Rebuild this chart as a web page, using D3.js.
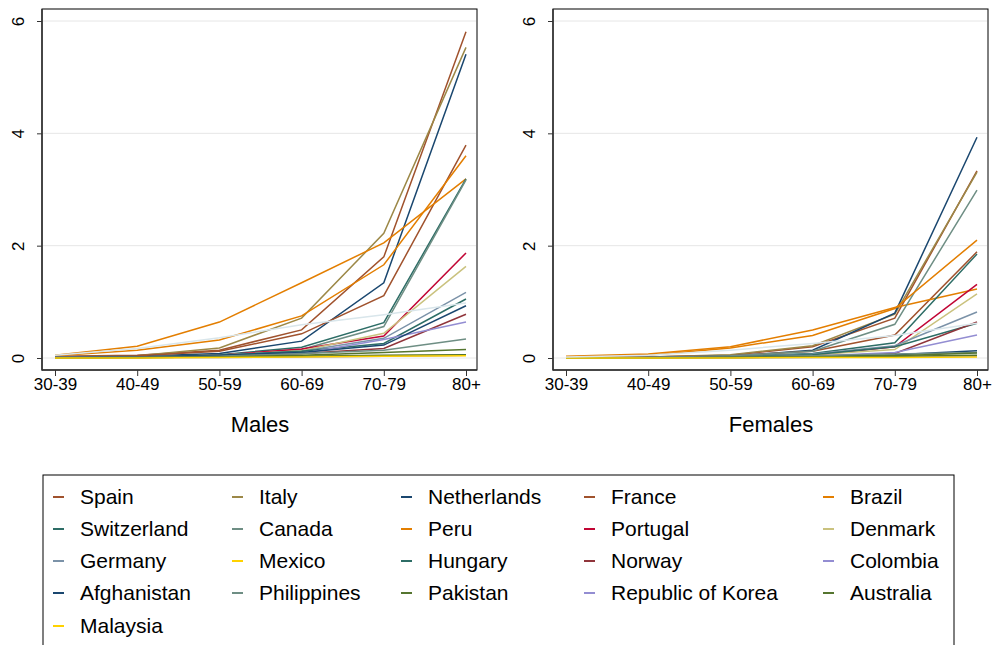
<!DOCTYPE html>
<html>
<head>
<meta charset="utf-8">
<script src="https://cdn.jsdelivr.net/npm/d3@7"></script>
<style>
  html, body { margin: 0; padding: 0; background: #fff; }
  svg { display: block; font-family: "Liberation Sans", Arial, sans-serif; }
</style>
</head>
<body>
<svg id="chart" width="992" height="645"></svg>
<script>
// Age bands on the x axis
const ageGroups = ["30-39", "40-49", "50-59", "60-69", "70-79", "80+"];
const yTicks = [0, 2, 4, 6];
const panelTitles = ["Males", "Females"];

// Country names, in legend order (the last series has no legend key)
const countries = [
  "Spain", "Italy", "Netherlands", "France", "Brazil",
  "Switzerland", "Canada", "Peru", "Portugal", "Denmark",
  "Germany", "Mexico", "Hungary", "Norway", "Colombia",
  "Afghanistan", "Philippines", "Pakistan", "Republic of Korea", "Australia",
  "Malaysia", "Other"
];
const inLegend = countries.map(c => c !== "Other");

const countryColors = [
  "#a0522d", "#9c8847", "#1a476f", "#a0522d", "#e37e00",
  "#2d6d66", "#6e8e84", "#e37e00", "#c10534", "#cac27e",
  "#7b92a8", "#ffd200", "#2d6d66", "#90353b", "#938dd2",
  "#1a476f", "#6e8e84", "#55752f", "#938dd2", "#55752f",
  "#ffd200", "#d9e6eb"
];

// Rates per age band, males
const males = [
  [0.03, 0.05, 0.14, 0.50, 1.80, 5.81], // Spain
  [0.02, 0.04, 0.18, 0.71, 2.22, 5.53], // Italy
  [0.01, 0.03, 0.08, 0.30, 1.34, 5.41], // Netherlands
  [0.02, 0.04, 0.12, 0.43, 1.11, 3.79], // France
  [0.05, 0.21, 0.64, 1.34, 2.05, 3.19], // Brazil
  [0.01, 0.02, 0.06, 0.19, 0.63, 3.19], // Switzerland
  [0.01, 0.02, 0.05, 0.15, 0.56, 3.17], // Canada
  [0.04, 0.14, 0.32, 0.75, 1.66, 3.60], // Peru
  [0.01, 0.02, 0.05, 0.16, 0.39, 1.87], // Portugal
  [0.01, 0.02, 0.05, 0.13, 0.44, 1.63], // Denmark
  [0.01, 0.02, 0.05, 0.12, 0.35, 1.17], // Germany
  [0.00, 0.01, 0.02, 0.03, 0.04, 0.05], // Mexico
  [0.01, 0.02, 0.05, 0.12, 0.26, 1.05], // Hungary
  [0.01, 0.01, 0.03, 0.08, 0.17, 0.78], // Norway
  [0.01, 0.01, 0.03, 0.08, 0.33, 0.64], // Colombia
  [0.01, 0.02, 0.05, 0.10, 0.23, 0.93], // Afghanistan
  [0.01, 0.01, 0.03, 0.08, 0.14, 0.34], // Philippines
  [0.00, 0.01, 0.02, 0.05, 0.10, 0.15], // Pakistan
  [0.00, 0.01, 0.01, 0.02, 0.03, 0.05], // Republic of Korea
  [0.00, 0.01, 0.02, 0.03, 0.05, 0.06], // Australia
  [0.00, 0.00, 0.01, 0.02, 0.03, 0.04], // Malaysia
  [0.05, 0.17, 0.36, 0.59, 0.77, 0.98]  // Other
];

// Rates per age band, females
const females = [
  [0.01, 0.02, 0.05, 0.20, 0.71, 3.33], // Spain
  [0.01, 0.02, 0.06, 0.22, 0.78, 3.31], // Italy
  [0.00, 0.01, 0.03, 0.14, 0.80, 3.93], // Netherlands
  [0.01, 0.02, 0.04, 0.12, 0.41, 1.89], // France
  [0.03, 0.07, 0.20, 0.50, 0.90, 1.23], // Brazil
  [0.00, 0.01, 0.03, 0.08, 0.27, 1.85], // Switzerland
  [0.01, 0.01, 0.04, 0.12, 0.60, 2.99], // Canada
  [0.02, 0.05, 0.18, 0.40, 0.88, 2.10], // Peru
  [0.00, 0.01, 0.02, 0.05, 0.20, 1.31], // Portugal
  [0.00, 0.01, 0.02, 0.06, 0.15, 1.14], // Denmark
  [0.00, 0.01, 0.02, 0.07, 0.22, 0.82], // Germany
  [0.00, 0.00, 0.01, 0.02, 0.02, 0.03], // Mexico
  [0.00, 0.01, 0.02, 0.06, 0.20, 0.62], // Hungary
  [0.00, 0.00, 0.01, 0.03, 0.08, 0.64], // Norway
  [0.00, 0.00, 0.01, 0.03, 0.10, 0.41], // Colombia
  [0.00, 0.00, 0.01, 0.03, 0.06, 0.13], // Afghanistan
  [0.00, 0.01, 0.02, 0.04, 0.07, 0.10], // Philippines
  [0.00, 0.00, 0.01, 0.02, 0.04, 0.09], // Pakistan
  [0.00, 0.00, 0.00, 0.01, 0.02, 0.03], // Republic of Korea
  [0.00, 0.00, 0.01, 0.02, 0.03, 0.05], // Australia
  [0.00, 0.00, 0.00, 0.01, 0.01, 0.02], // Malaysia
  [0.02, 0.05, 0.14, 0.26, 0.40, 0.62]  // Other
];

const svg = d3.select("#chart");

const panels = [
  { data: males,   left: 42,  right: 477, title: panelTitles[0], titleX: 260 },
  { data: females, left: 553, right: 988, title: panelTitles[1], titleX: 771 }
];
const plotTop = 9, plotBottom = 370;

const y = d3.scaleLinear().domain([0, 6]).range([358, 21]);

panels.forEach(p => {
  const x = d3.scalePoint().domain(ageGroups).range([p.left + 13, p.right - 11]);
  const g = svg.append("g");

  // plot region frame
  g.append("rect")
    .attr("x", p.left).attr("y", plotTop)
    .attr("width", p.right - p.left).attr("height", plotBottom - plotTop)
    .attr("fill", "#fff").attr("stroke", "#000").attr("stroke-width", 1);

  // horizontal grid lines
  g.selectAll("line.grid").data(yTicks).enter().append("line")
    .attr("class", "grid")
    .attr("x1", p.left + 1).attr("x2", p.right - 1)
    .attr("y1", d => y(d)).attr("y2", d => y(d))
    .attr("stroke", "#e6e6e6").attr("stroke-width", 1);

  // series
  const line = d3.line().x((d, i) => x(ageGroups[i])).y(d => y(d));
  g.selectAll("path.series").data(p.data).enter().append("path")
    .attr("class", "series")
    .attr("d", d => line(d))
    .attr("fill", "none")
    .attr("stroke", (d, i) => countryColors[i])
    .attr("stroke-width", 1.5)
    .attr("stroke-linejoin", "miter");

  // y axis with vertical tick labels
  const yAxis = g.append("g")
    .attr("transform", `translate(${p.left},0)`)
    .call(d3.axisLeft(y).tickValues(yTicks).tickFormat(d3.format("d")).tickSize(5));
  yAxis.select(".domain").remove();
  yAxis.selectAll(".tick line").attr("stroke", "#333");
  yAxis.selectAll(".tick text")
    .attr("font-size", 17).attr("fill", "#000")
    .attr("text-anchor", "middle")
    .attr("x", 0).attr("y", 0).attr("dy", "0.35em")
    .attr("transform", "translate(-24,0) rotate(-90)");

  g.append("line")
    .attr("x1", p.left).attr("x2", p.left)
    .attr("y1", plotTop).attr("y2", plotBottom + 0.5)
    .attr("stroke", "#333").attr("stroke-width", 1.5);

  // x axis
  const xAxis = g.append("g")
    .attr("transform", `translate(0,${plotBottom})`)
    .call(d3.axisBottom(x).tickSize(6).tickPadding(2));
  xAxis.select(".domain").remove();
  xAxis.selectAll(".tick line").attr("stroke", "#333");
  xAxis.selectAll(".tick text").attr("font-size", 17).attr("fill", "#000");

  g.append("line")
    .attr("x1", p.left).attr("x2", p.right)
    .attr("y1", plotBottom).attr("y2", plotBottom)
    .attr("stroke", "#333").attr("stroke-width", 1.5);

  // panel title
  g.append("text")
    .attr("x", p.titleX).attr("y", 432)
    .attr("text-anchor", "middle")
    .attr("font-size", 22).attr("fill", "#000")
    .text(p.title);
});

// legend
const legendCols = [53, 232, 401, 584, 823];
const legendRowY = [497, 529, 561, 593, 626];
const legend = svg.append("g");
legend.append("rect")
  .attr("x", 43).attr("y", 475)
  .attr("width", 911).attr("height", 200)
  .attr("fill", "#fff").attr("stroke", "#000").attr("stroke-width", 1);

const legendItems = countries.map((c, i) => ({ name: c, color: countryColors[i], show: inLegend[i] }))
  .filter(d => d.show);

const item = legend.selectAll("g.item").data(legendItems).enter().append("g")
  .attr("class", "item")
  .attr("transform", (d, i) => `translate(${legendCols[i % 5]},${legendRowY[Math.floor(i / 5)]})`);
item.append("line")
  .attr("x1", 0).attr("x2", 11)
  .attr("y1", 0).attr("y2", 0)
  .attr("stroke", d => d.color).attr("stroke-width", 2);
item.append("text")
  .attr("x", 27).attr("y", 0).attr("dy", "0.35em")
  .attr("font-size", 21).attr("fill", "#000")
  .text(d => d.name);
</script>
</body>
</html>
